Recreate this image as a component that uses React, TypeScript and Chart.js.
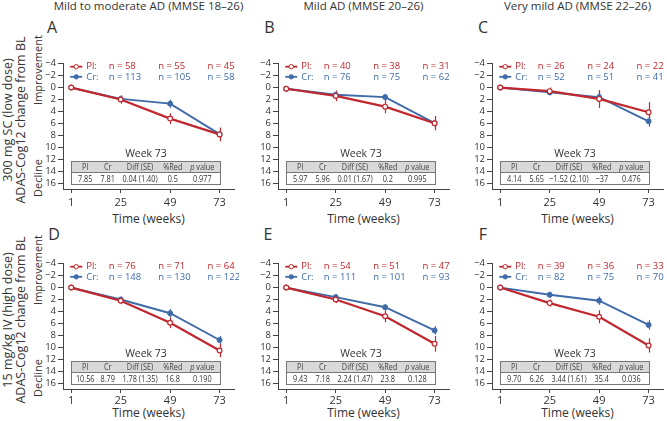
import React, { useEffect, useRef } from "react";
import { Chart, registerables } from "chart.js";

Chart.register(...registerables);

// ---------- data ----------
const weeks = [1, 25, 49, 73];
const xTickValues = [1, 25, 49, 73];
const yTickValues = [-4, -2, 0, 2, 4, 6, 8, 10, 12, 14, 16];
const nWeeks = [25, 49, 73];
const tableHeaders = ["Pl", "Cr", "Diff (SE)", "%Red", "p value"];
const columnTitles = ["Mild to moderate AD (MMSE 18–26)", "Mild AD (MMSE 20–26)", "Very mild AD (MMSE 22–26)"];
const rowTitles = ["300 mg SC (low dose)", "15 mg/kg IV (high dose)"];
const rowSubtitle = "ADAS-Cog12 change from BL";
const panelLetters = ["A", "B", "C", "D", "E", "F"];

// Panel A
const plA = [0, 2.0, 5.2, 7.85];
const crA = [0, 1.9, 2.7, 7.81];
const plErrA = [0, 0.7, 0.9, 1.15];
const crErrA = [0, 0.5, 0.7, 0.5];
const nPlA = [58, 55, 45];
const nCrA = [113, 105, 58];
const tableA = ["7.85", "7.81", "0.04 (1.40)", "0.5", "0.977"];

// Panel B
const plB = [0.2, 1.4, 3.2, 5.97];
const crB = [0.2, 1.2, 1.6, 5.96];
const plErrB = [0, 0.9, 1.1, 1.2];
const crErrB = [0, 0.5, 0.5, 0.7];
const nPlB = [40, 38, 31];
const nCrB = [76, 75, 62];
const tableB = ["5.97", "5.96", "0.01 (1.67)", "0.2", "0.995"];

// Panel C
const plC = [0, 0.6, 1.9, 4.14];
const crC = [0, 0.8, 1.6, 5.65];
const plErrC = [0, 0.6, 1.5, 1.7];
const crErrC = [0, 0.5, 1.0, 0.9];
const nPlC = [26, 24, 22];
const nCrC = [52, 51, 41];
const tableC = ["4.14", "5.65", "−1.52 (2.10)", "−37", "0.476"];

// Panel D
const plD = [0, 2.2, 5.9, 10.56];
const crD = [0, 2.0, 4.3, 8.79];
const plErrD = [0, 0.6, 0.9, 1.1];
const crErrD = [0, 0.5, 0.7, 0.7];
const nPlD = [76, 71, 64];
const nCrD = [148, 130, 122];
const tableD = ["10.56", "8.79", "1.78 (1.35)", "16.8", "0.190"];

// Panel E
const plE = [0, 2.0, 4.8, 9.43];
const crE = [0, 1.6, 3.3, 7.18];
const plErrE = [0, 0.6, 1.0, 1.3];
const crErrE = [0, 0.5, 0.5, 0.7];
const nPlE = [54, 51, 47];
const nCrE = [111, 101, 93];
const tableE = ["9.43", "7.18", "2.24 (1.47)", "23.8", "0.128"];

// Panel F
const plF = [0, 2.6, 4.9, 9.70];
const crF = [0, 1.2, 2.2, 6.26];
const plErrF = [0, 0.6, 1.1, 1.2];
const crErrF = [0, 0.5, 0.7, 0.8];
const nPlF = [39, 36, 33];
const nCrF = [82, 75, 70];
const tableF = ["9.70", "6.26", "3.44 (1.61)", "35.4", "0.036"];

// ---------- style ----------
const FONT = "'Open Sans', sans-serif";
const RED = "#c0272e";
const BLUE = "#3f6ba8";
const TEXT = "#333333";
const AXIS = "#444444";

const CHART_W = 171;
const CHART_H = 127;
const Y_AXIS_W = 45;
const X_AXIS_H = 24;
const PAD_TOP = 6;
const PAD_RIGHT = 5;
const colLefts = [63, 278, 492];
const rowTops = [62, 262];
const TABLE_FONT = 9.5;
const TABLE_SX = 0.77;

type Panel = {
  pl: number[]; cr: number[]; plErr: number[]; crErr: number[];
  nPl: number[]; nCr: number[]; table: string[];
  col: number; row: number;
};

const panels: Panel[] = [
  { pl: plA, cr: crA, plErr: plErrA, crErr: crErrA, nPl: nPlA, nCr: nCrA, table: tableA, col: 0, row: 0 },
  { pl: plB, cr: crB, plErr: plErrB, crErr: crErrB, nPl: nPlB, nCr: nCrB, table: tableB, col: 1, row: 0 },
  { pl: plC, cr: crC, plErr: plErrC, crErr: crErrC, nPl: nPlC, nCr: nCrC, table: tableC, col: 2, row: 0 },
  { pl: plD, cr: crD, plErr: plErrD, crErr: crErrD, nPl: nPlD, nCr: nCrD, table: tableD, col: 0, row: 1 },
  { pl: plE, cr: crE, plErr: plErrE, crErr: crErrE, nPl: nPlE, nCr: nCrE, table: tableE, col: 1, row: 1 },
  { pl: plF, cr: crF, plErr: plErrF, crErr: crErrF, nPl: nPlF, nCr: nCrF, table: tableF, col: 2, row: 1 },
];

const colFractions = [0.092, 0.243, 0.46, 0.68, 0.878];

function condensedText(ctx: CanvasRenderingContext2D, parts: { t: string; italic?: boolean }[], cx: number, cy: number, color: string) {
  ctx.save();
  ctx.translate(cx, cy);
  ctx.scale(TABLE_SX, 1);
  ctx.fillStyle = color;
  ctx.textAlign = "left";
  ctx.textBaseline = "middle";
  const widths = parts.map((p) => {
    ctx.font = `${p.italic ? "italic " : ""}${TABLE_FONT}px ${FONT}`;
    return ctx.measureText(p.t).width;
  });
  const total = widths.reduce((a, b) => a + b, 0);
  let sx = -total / 2;
  parts.forEach((p, i) => {
    ctx.font = `${p.italic ? "italic " : ""}${TABLE_FONT}px ${FONT}`;
    ctx.fillText(p.t, sx, 0);
    sx += widths[i];
  });
  ctx.restore();
}

function makeDecor(p: Panel, idx: number) {
  return {
    id: "decor" + idx,
    beforeDatasetsDraw(chart: any) {
      const { ctx, scales } = chart;
      const x = scales.x, y = scales.y;
      ctx.save();
      ctx.lineWidth = 1.2;
      const sets: [number[], number[], string][] = [[p.cr, p.crErr, BLUE], [p.pl, p.plErr, RED]];
      sets.forEach(([vals, errs, col]) => {
        ctx.strokeStyle = col;
        weeks.forEach((w, i) => {
          if (!errs[i]) return;
          const px = Math.round(x.getPixelForValue(w)) + 0.5;
          ctx.beginPath();
          ctx.moveTo(px, y.getPixelForValue(vals[i] - errs[i]));
          ctx.lineTo(px, y.getPixelForValue(vals[i] + errs[i]));
          ctx.stroke();
        });
      });
      ctx.restore();
    },
    afterDraw(chart: any) {
      const { ctx, scales } = chart;
      const x = scales.x, y = scales.y;
      ctx.save();
      // legend
      const rows = [
        { name: "Pl:", n: p.nPl, col: RED, open: true, yv: -3.5 },
        { name: "Cr:", n: p.nCr, col: BLUE, open: false, yv: -1.8 },
      ];
      const x0 = x.getPixelForValue(1);
      rows.forEach((r) => {
        const py = y.getPixelForValue(r.yv);
        ctx.strokeStyle = r.col;
        ctx.lineWidth = 1.8;
        ctx.beginPath();
        ctx.moveTo(x0 - 1, py);
        ctx.lineTo(x0 + 11, py);
        ctx.stroke();
        ctx.beginPath();
        ctx.arc(x0 + 5, py, 2.2, 0, Math.PI * 2);
        ctx.fillStyle = r.open ? "#ffffff" : r.col;
        ctx.fill();
        ctx.lineWidth = 1;
        ctx.stroke();
        ctx.fillStyle = r.col;
        ctx.font = `9.5px ${FONT}`;
        ctx.textAlign = "left";
        ctx.textBaseline = "middle";
        ctx.fillText(r.name, x0 + 15, py);
        nWeeks.forEach((w, j) => {
          ctx.fillText(`n = ${r.n[j]}`, x.getPixelForValue(w) - 12, py);
        });
      });
      // table
      const L = Math.round(x.getPixelForValue(1)) + 0.5;
      const R = Math.round(x.getPixelForValue(73)) + 0.5;
      const T = Math.round(y.getPixelForValue(12.3)) + 0.5;
      const H = Math.round(y.getPixelForValue(14.2)) + 0.5;
      const B = Math.round(y.getPixelForValue(16.1)) + 0.5;
      ctx.fillStyle = "#ffffff";
      ctx.fillRect(L, T, R - L, B - T);
      ctx.fillStyle = "#d9d9d9";
      ctx.fillRect(L, T, R - L, H - T);
      ctx.strokeStyle = "#777777";
      ctx.lineWidth = 1;
      ctx.strokeRect(L, T, R - L, B - T);
      ctx.beginPath();
      ctx.moveTo(L, H);
      ctx.lineTo(R, H);
      ctx.stroke();
      ctx.fillStyle = TEXT;
      ctx.textAlign = "center";
      ctx.textBaseline = "middle";
      ctx.font = `10.5px ${FONT}`;
      ctx.fillText("Week 73", (L + R) / 2, y.getPixelForValue(11.2));
      const hy = (T + H) / 2 + 0.5;
      const vy = (H + B) / 2 + 0.5;
      tableHeaders.forEach((h, i) => {
        const cx = L + (R - L) * colFractions[i];
        if (h.startsWith("p ")) {
          condensedText(ctx, [{ t: "p", italic: true }, { t: h.slice(1) }], cx, hy, "#444444");
        } else {
          condensedText(ctx, [{ t: h }], cx, hy, "#444444");
        }
        condensedText(ctx, [{ t: p.table[i] }], cx, vy, TEXT);
      });
      ctx.restore();
    },
  };
}

function PanelChart({ p, idx }: { p: Panel; idx: number }) {
  const ref = useRef<HTMLCanvasElement | null>(null);
  useEffect(() => {
    const canvas = ref.current;
    if (!canvas) return;
    const tickPad = p.row === 0 ? 3.4 : 1.6;
    const chart = new Chart(canvas, {
      type: "line",
      data: {
        datasets: [
          {
            label: "Cr",
            data: weeks.map((w, i) => ({ x: w, y: p.cr[i] })),
            borderColor: BLUE,
            backgroundColor: BLUE,
            borderWidth: 1.9,
            pointRadius: 2.5,
            pointBackgroundColor: BLUE,
            pointBorderColor: BLUE,
            pointBorderWidth: 1,
            tension: 0,
            order: 2,
          },
          {
            label: "Pl",
            data: weeks.map((w, i) => ({ x: w, y: p.pl[i] })),
            borderColor: RED,
            backgroundColor: RED,
            borderWidth: 2.2,
            pointRadius: 2.4,
            pointBackgroundColor: "#ffffff",
            pointBorderColor: RED,
            pointBorderWidth: 1.2,
            tension: 0,
            order: 1,
          },
        ],
      },
      options: {
        animation: false,
        responsive: false,
        maintainAspectRatio: false,
        events: [],
        layout: { autoPadding: false, padding: { top: PAD_TOP, right: PAD_RIGHT, left: 0, bottom: 0 } },
        plugins: { legend: { display: false }, tooltip: { enabled: false }, title: { display: false } },
        scales: {
          x: {
            type: "linear",
            min: -3,
            max: 80,
            afterBuildTicks: (s: any) => { s.ticks = xTickValues.map((v) => ({ value: v })); },
            afterFit: (s: any) => { s.height = X_AXIS_H; },
            grid: { display: true, drawOnChartArea: false, drawTicks: true, tickLength: 4, color: AXIS, lineWidth: 1 },
            border: { display: true, color: AXIS, width: 1 },
            ticks: { font: { family: FONT, size: 11 }, color: TEXT, padding: tickPad, maxRotation: 0, autoSkip: false },
          },
          y: {
            type: "linear",
            reverse: true,
            min: -4,
            max: 17,
            afterBuildTicks: (s: any) => { s.ticks = yTickValues.map((v) => ({ value: v })); },
            afterFit: (s: any) => { s.width = Y_AXIS_W; },
            grid: { display: true, drawOnChartArea: false, drawTicks: true, tickLength: 5, color: AXIS, lineWidth: 1 },
            border: { display: true, color: AXIS, width: 1 },
            ticks: {
              font: { family: FONT, size: 9.5 },
              color: TEXT,
              padding: 2,
              autoSkip: false,
              callback: (v: any) => (v < 0 ? "−" + Math.abs(v) : String(v)),
            },
          },
        },
      },
      plugins: [makeDecor(p, idx)],
    } as any);
    return () => chart.destroy();
  }, [p, idx]);
  const left = colLefts[p.col] - Y_AXIS_W;
  const top = rowTops[p.row] - PAD_TOP;
  const w = Y_AXIS_W + CHART_W + PAD_RIGHT;
  const h = PAD_TOP + CHART_H + X_AXIS_H;
  return (
    <canvas
      ref={ref}
      width={w}
      height={h}
      style={{ position: "absolute", left, top, width: w, height: h }}
    />
  );
}

function Txt({ x, y, text, size, rot, color }: { x: number; y: number; text: string; size: number; rot?: boolean; color?: string }) {
  return (
    <div
      style={{
        position: "absolute",
        left: x,
        top: y,
        transform: `translate(-50%, -50%)${rot ? " rotate(-90deg)" : ""}`,
        fontSize: size,
        lineHeight: 1,
        whiteSpace: "nowrap",
        fontFamily: FONT,
        color: color || TEXT,
      }}
    >
      {text}
    </div>
  );
}

const colCenters = colLefts.map((l) => l + CHART_W / 2);
const letterPos = [
  [52, 27], [269.5, 27], [483, 27],
  [54, 234], [268, 234], [483, 234],
];

export default function App() {
  return (
    <div style={{ position: "fixed", left: 0, top: 0, width: 667, height: 421, background: "#ffffff", overflow: "hidden" }}>
      {columnTitles.map((t, i) => (
        <Txt key={"t" + i} x={colCenters[i]} y={6} text={t} size={11.5} />
      ))}
      {panelLetters.map((l, i) => (
        <Txt key={"l" + i} x={letterPos[i][0]} y={letterPos[i][1]} text={l} size={16} />
      ))}
      {rowTitles.map((t, r) => (
        <React.Fragment key={"r" + r}>
          <Txt x={8} y={120 + r * 200} text={t} size={12.5} rot />
          <Txt x={21} y={120 + r * 200} text={rowSubtitle} size={12.5} rot />
          <Txt x={37} y={70 + r * 200} text="Improvement" size={11} rot />
          <Txt x={37} y={178 + r * 200} text="Decline" size={11} rot />
        </React.Fragment>
      ))}
      {colCenters.map((c, i) => (
        <React.Fragment key={"x" + i}>
          <Txt x={c} y={219} text="Time (weeks)" size={12} />
          <Txt x={c} y={412.5} text="Time (weeks)" size={12} />
        </React.Fragment>
      ))}
      {panels.map((p, i) => (
        <PanelChart key={i} p={p} idx={i} />
      ))}
    </div>
  );
}
